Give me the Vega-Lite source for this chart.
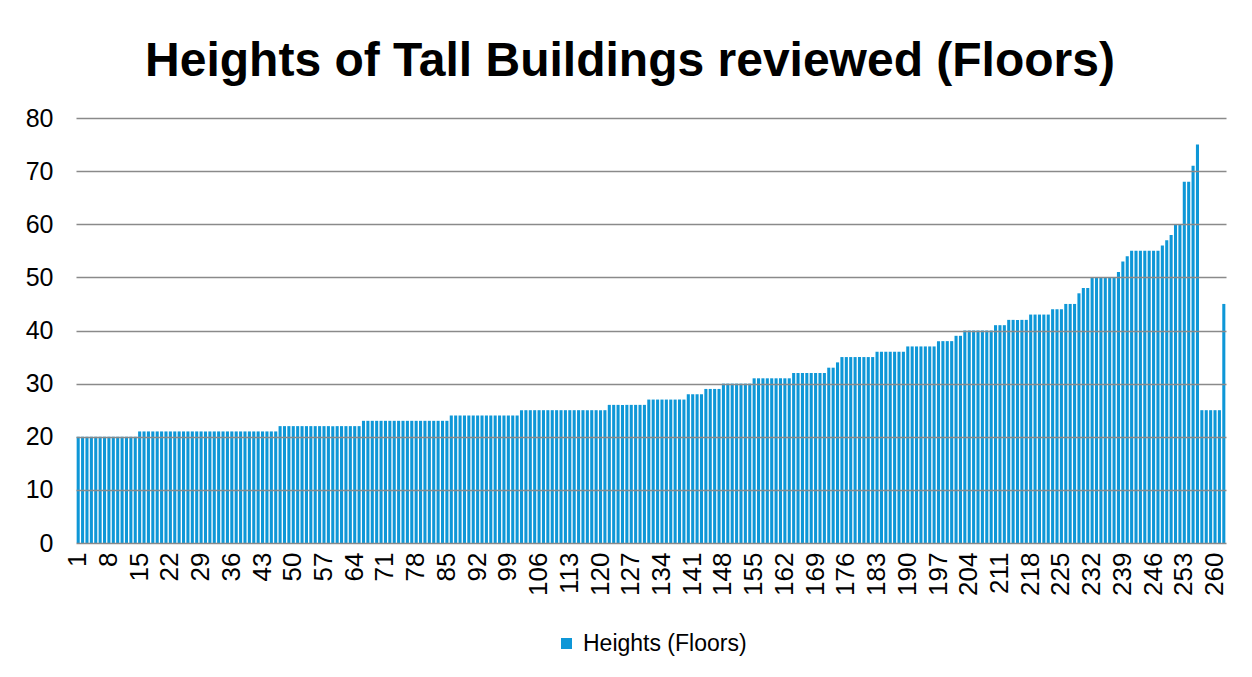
{
"$schema": "https://vega.github.io/schema/vega-lite/v6.json",
"width": 1150,
"height": 425,
"autosize": "none",
"padding": {"left": 76, "top": 118, "right": 26, "bottom": 134},
"background": "white",
"title": {"text": "Heights of Tall Buildings reviewed (Floors)", "font": "Liberation Sans", "fontSize": 48, "fontWeight": "bold", "color": "black", "anchor": "middle", "dx": -21, "offset": 20},
"data": {"values": [
{"i":1,"h":20},{"i":2,"h":20},{"i":3,"h":20},{"i":4,"h":20},{"i":5,"h":20},{"i":6,"h":20},{"i":7,"h":20},{"i":8,"h":20},{"i":9,"h":20},{"i":10,"h":20},{"i":11,"h":20},{"i":12,"h":20},{"i":13,"h":20},{"i":14,"h":20},
{"i":15,"h":21},{"i":16,"h":21},{"i":17,"h":21},{"i":18,"h":21},{"i":19,"h":21},{"i":20,"h":21},{"i":21,"h":21},{"i":22,"h":21},{"i":23,"h":21},{"i":24,"h":21},{"i":25,"h":21},{"i":26,"h":21},{"i":27,"h":21},{"i":28,"h":21},{"i":29,"h":21},{"i":30,"h":21},{"i":31,"h":21},{"i":32,"h":21},{"i":33,"h":21},{"i":34,"h":21},{"i":35,"h":21},{"i":36,"h":21},{"i":37,"h":21},{"i":38,"h":21},{"i":39,"h":21},{"i":40,"h":21},{"i":41,"h":21},{"i":42,"h":21},{"i":43,"h":21},{"i":44,"h":21},{"i":45,"h":21},{"i":46,"h":21},
{"i":47,"h":22},{"i":48,"h":22},{"i":49,"h":22},{"i":50,"h":22},{"i":51,"h":22},{"i":52,"h":22},{"i":53,"h":22},{"i":54,"h":22},{"i":55,"h":22},{"i":56,"h":22},{"i":57,"h":22},{"i":58,"h":22},{"i":59,"h":22},{"i":60,"h":22},{"i":61,"h":22},{"i":62,"h":22},{"i":63,"h":22},{"i":64,"h":22},{"i":65,"h":22},
{"i":66,"h":23},{"i":67,"h":23},{"i":68,"h":23},{"i":69,"h":23},{"i":70,"h":23},{"i":71,"h":23},{"i":72,"h":23},{"i":73,"h":23},{"i":74,"h":23},{"i":75,"h":23},{"i":76,"h":23},{"i":77,"h":23},{"i":78,"h":23},{"i":79,"h":23},{"i":80,"h":23},{"i":81,"h":23},{"i":82,"h":23},{"i":83,"h":23},{"i":84,"h":23},{"i":85,"h":23},
{"i":86,"h":24},{"i":87,"h":24},{"i":88,"h":24},{"i":89,"h":24},{"i":90,"h":24},{"i":91,"h":24},{"i":92,"h":24},{"i":93,"h":24},{"i":94,"h":24},{"i":95,"h":24},{"i":96,"h":24},{"i":97,"h":24},{"i":98,"h":24},{"i":99,"h":24},{"i":100,"h":24},{"i":101,"h":24},
{"i":102,"h":25},{"i":103,"h":25},{"i":104,"h":25},{"i":105,"h":25},{"i":106,"h":25},{"i":107,"h":25},{"i":108,"h":25},{"i":109,"h":25},{"i":110,"h":25},{"i":111,"h":25},{"i":112,"h":25},{"i":113,"h":25},{"i":114,"h":25},{"i":115,"h":25},{"i":116,"h":25},{"i":117,"h":25},{"i":118,"h":25},{"i":119,"h":25},{"i":120,"h":25},{"i":121,"h":25},
{"i":122,"h":26},{"i":123,"h":26},{"i":124,"h":26},{"i":125,"h":26},{"i":126,"h":26},{"i":127,"h":26},{"i":128,"h":26},{"i":129,"h":26},{"i":130,"h":26},
{"i":131,"h":27},{"i":132,"h":27},{"i":133,"h":27},{"i":134,"h":27},{"i":135,"h":27},{"i":136,"h":27},{"i":137,"h":27},{"i":138,"h":27},{"i":139,"h":27},
{"i":140,"h":28},{"i":141,"h":28},{"i":142,"h":28},{"i":143,"h":28},
{"i":144,"h":29},{"i":145,"h":29},{"i":146,"h":29},{"i":147,"h":29},
{"i":148,"h":30},{"i":149,"h":30},{"i":150,"h":30},{"i":151,"h":30},{"i":152,"h":30},{"i":153,"h":30},{"i":154,"h":30},
{"i":155,"h":31},{"i":156,"h":31},{"i":157,"h":31},{"i":158,"h":31},{"i":159,"h":31},{"i":160,"h":31},{"i":161,"h":31},{"i":162,"h":31},{"i":163,"h":31},
{"i":164,"h":32},{"i":165,"h":32},{"i":166,"h":32},{"i":167,"h":32},{"i":168,"h":32},{"i":169,"h":32},{"i":170,"h":32},{"i":171,"h":32},
{"i":172,"h":33},{"i":173,"h":33},
{"i":174,"h":34},
{"i":175,"h":35},{"i":176,"h":35},{"i":177,"h":35},{"i":178,"h":35},{"i":179,"h":35},{"i":180,"h":35},{"i":181,"h":35},{"i":182,"h":35},
{"i":183,"h":36},{"i":184,"h":36},{"i":185,"h":36},{"i":186,"h":36},{"i":187,"h":36},{"i":188,"h":36},{"i":189,"h":36},
{"i":190,"h":37},{"i":191,"h":37},{"i":192,"h":37},{"i":193,"h":37},{"i":194,"h":37},{"i":195,"h":37},{"i":196,"h":37},
{"i":197,"h":38},{"i":198,"h":38},{"i":199,"h":38},{"i":200,"h":38},
{"i":201,"h":39},{"i":202,"h":39},
{"i":203,"h":40},{"i":204,"h":40},{"i":205,"h":40},{"i":206,"h":40},{"i":207,"h":40},{"i":208,"h":40},{"i":209,"h":40},
{"i":210,"h":41},{"i":211,"h":41},{"i":212,"h":41},
{"i":213,"h":42},{"i":214,"h":42},{"i":215,"h":42},{"i":216,"h":42},{"i":217,"h":42},
{"i":218,"h":43},{"i":219,"h":43},{"i":220,"h":43},{"i":221,"h":43},{"i":222,"h":43},
{"i":223,"h":44},{"i":224,"h":44},{"i":225,"h":44},
{"i":226,"h":45},{"i":227,"h":45},{"i":228,"h":45},
{"i":229,"h":47},
{"i":230,"h":48},{"i":231,"h":48},
{"i":232,"h":50},{"i":233,"h":50},{"i":234,"h":50},{"i":235,"h":50},{"i":236,"h":50},{"i":237,"h":50},
{"i":238,"h":51},
{"i":239,"h":53},
{"i":240,"h":54},
{"i":241,"h":55},{"i":242,"h":55},{"i":243,"h":55},{"i":244,"h":55},{"i":245,"h":55},{"i":246,"h":55},{"i":247,"h":55},
{"i":248,"h":56},
{"i":249,"h":57},
{"i":250,"h":58},
{"i":251,"h":60},{"i":252,"h":60},
{"i":253,"h":68},{"i":254,"h":68},
{"i":255,"h":71},
{"i":256,"h":75},
{"i":257,"h":25},{"i":258,"h":25},{"i":259,"h":25},{"i":260,"h":25},{"i":261,"h":25},
{"i":262,"h":45}
]},
"mark": {"type": "bar", "color": "#0e97d7"},
"encoding": {
"x": {"field": "i", "type": "ordinal", "scale": {"paddingInner": 0.3, "paddingOuter": 0.15},
"axis": {"values": [1,8,15,22,29,36,43,50,57,64,71,78,85,92,99,106,113,120,127,134,141,148,155,162,169,176,183,190,197,204,211,218,225,232,239,246,253,260], "labelAngle": -90, "labelFont": "Liberation Sans", "labelFontSize": 26, "labelColor": "black", "domain": false, "ticks": false, "labelPadding": 9, "title": null}},
"y": {"field": "h", "type": "quantitative", "scale": {"domain": [0, 80]},
"axis": {"values": [0,10,20,30,40,50,60,70,80], "grid": true, "gridColor": "#8a8a8a", "gridWidth": 1.5, "domain": false, "ticks": false, "labelPadding": 23, "labelFontSize": 25, "labelFont": "Liberation Sans", "labelColor": "black", "title": null, "zindex": 1}},
"color": {"datum": "Heights (Floors)", "scale": {"range": ["#0e97d7"]},
"legend": {"orient": "bottom", "title": null, "symbolType": "square", "symbolSize": 121, "symbolStrokeWidth": 0, "labelFontSize": 23, "labelFont": "Liberation Sans", "labelColor": "black", "labelLimit": 0, "offset": 36, "labelOffset": 5}}
},
"config": {"view": {"stroke": null}, "legend": {"layout": {"bottom": {"anchor": "middle"}}}}
}
